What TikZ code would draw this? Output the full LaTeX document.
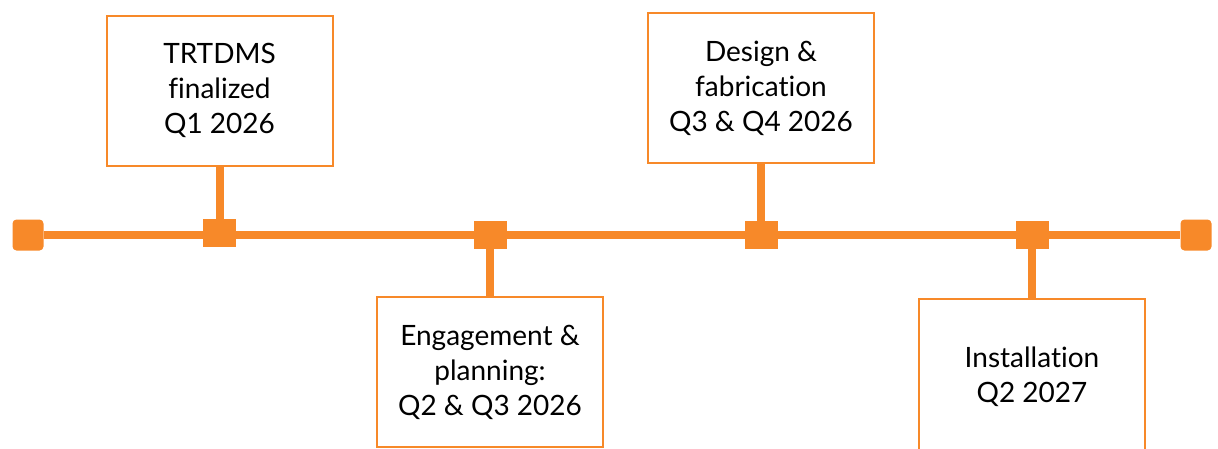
\documentclass[tikz,border=0pt]{standalone}
\usepackage{fontspec}
\setmainfont{Lato}[Ligatures=NoCommon]
\definecolor{tlorange}{RGB}{247,137,41}

\begin{document}
\begin{tikzpicture}[x=1pt, y=-1pt,
        box/.style={draw=tlorange, fill=white, line width=2pt, minimum width=226pt, minimum height=150pt,
            align=center, inner sep=0pt, font=\fontsize{28}{35}\selectfont},
        milestone/.style={fill=tlorange, minimum width=33pt, minimum height=28pt, inner sep=0pt},
        endcap/.style={fill=tlorange, rounded corners=4pt, minimum size=31pt, inner sep=0pt},
        spine/.style={draw=tlorange, line width=8pt},
        stem/.style={draw=tlorange, line width=8pt}]
        \useasboundingbox (0, 0) rectangle (1218, 448);

        % ends of the time line
        \node[endcap] (start) at (28, 235) {};
        \node[endcap] (finish) at (1196, 235) {};

        % milestones
        \node[milestone] (m1) at (219.5, 233) {};
        \node[milestone] (m2) at (490, 235) {};
        \node[milestone] (m3) at (761, 235) {};
        \node[milestone] (m4) at (1032, 235) {};

        \draw[spine] (start) -- (finish);

        % boxes
        \node[box] (b1) at (219.5, 90.5) {TRTDMS\\finalized\\Q1 2026};
        \node[box] (b2) at (490, 372) {Engagement \&\\planning:\\Q2 \& Q3 2026};
        \node[box] (b3) at (761, 88) {Design \&\\fabrication\\Q3 \& Q4 2026};
        \node[box, minimum height=156pt] (b4) at (1032, 377) {Installation\\Q2 2027};

        \draw[stem] (b1.south) -- (m1);
        \draw[stem] (b2.north) -- (m2);
        \draw[stem] (b3.south) -- (m3);
        \draw[stem] (b4.north) -- (m4);

\end{tikzpicture}
\end{document}
